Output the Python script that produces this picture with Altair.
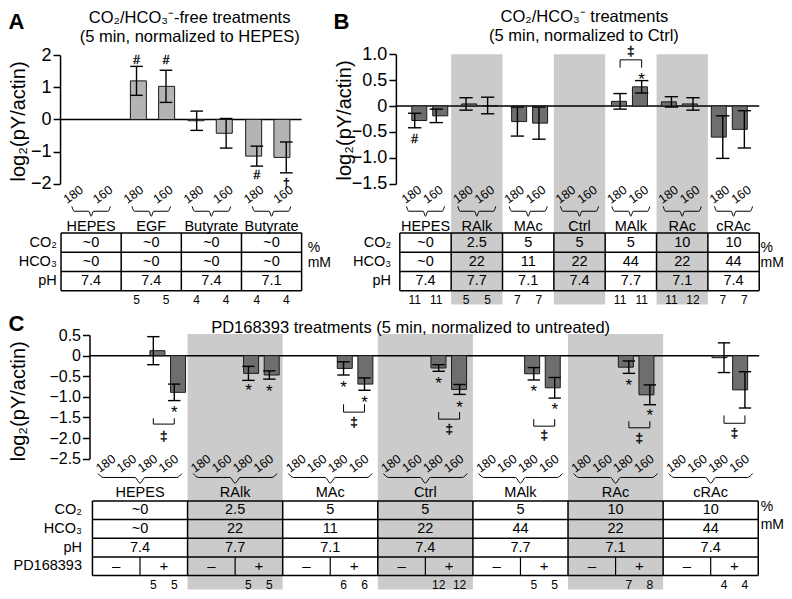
import altair as alt
import pandas as pd

FONT = "Liberation Sans"

# ======================= DATA =======================
# ---- Panel A : CO2/HCO3- free treatments (normalized to HEPES) ----
A_groups = ["HEPES", "EGF", "Butyrate", "Butyrate"]
A_sizes = ["180", "160", "180", "160", "180", "160", "180", "160"]
A_mean = [None, None, 1.20, 1.03, -0.04, -0.43, -1.14, -1.18]
A_err = [None, None, 0.45, 0.50, 0.30, 0.46, 0.31, 0.48]
A_co2 = ["~0", "~0", "~0", "~0"]
A_hco3 = ["~0", "~0", "~0", "~0"]
A_ph = ["7.4", "7.4", "7.4", "7.1"]
A_n = ["", "", "5", "5", "4", "4", "4", "4"]
A_sym = ["", "", "#", "#", "", "", "#", "†"]
A_sym_y = [None, None, 1.86, 1.86, None, None, -1.74, -1.98]

# ---- Panel B : CO2/HCO3- treatments (normalized to Ctrl) ----
B_groups = ["HEPES", "RAlk", "MAc", "Ctrl", "MAlk", "RAc", "cRAc"]
B_sizes = ["180", "160"] * 7
B_mean = [-0.28, -0.19, 0.04, 0.01, -0.30, -0.33, None, None, 0.09, 0.37, 0.08, 0.04, -0.60, -0.45]
B_err = [0.14, 0.13, 0.12, 0.16, 0.28, 0.31, None, None, 0.15, 0.12, 0.10, 0.12, 0.41, 0.36]
B_co2 = ["~0", "2.5", "5", "5", "5", "10", "10"]
B_hco3 = ["~0", "22", "11", "22", "44", "22", "44"]
B_ph = ["7.4", "7.7", "7.1", "7.4", "7.7", "7.1", "7.4"]
B_n = ["11", "11", "5", "5", "7", "7", "", "", "11", "11", "11", "12", "7", "7"]
B_sym = ["#", "", "", "", "", "", "", "", "", "*", "", "", "", ""]
B_sym_y = [-0.63, None, None, None, None, None, None, None, None, 0.60, None, None, None, None]
B_shaded = [1, 3, 5]
B_bracket_bars = [8, 9]
B_bracket_end, B_bracket_top, B_dagger_y = 0.74, 0.89, 1.07

# ---- Panel C : PD168393 treatments (normalized to untreated) ----
C_groups = ["HEPES", "RAlk", "MAc", "Ctrl", "MAlk", "RAc", "cRAc"]
C_sizes = ["180", "160", "180", "160"] * 7
C_pd = ["–", "+"]
C_mean_plus = [0.12, -0.89, -0.43, -0.47, -0.31, -0.69, -0.30, -0.82, -0.44, -0.78, -0.28, -0.95, -0.05, -0.83]
C_err_plus = [0.34, 0.20, 0.17, 0.10, 0.16, 0.15, 0.08, 0.12, 0.15, 0.25, 0.15, 0.24, 0.36, 0.44]
C_star_y = [None, -1.27, -0.74, -0.77, -0.66, -1.03, -0.56, -1.14, -0.76, -1.19, -0.62, -1.35, None, None]
C_n_plus = ["5", "5", "5", "5", "6", "6", "12", "12", "5", "5", "7", "8", "4", "4"]
C_co2 = B_co2
C_hco3 = B_hco3
C_ph = B_ph
C_shaded = [1, 3, 5]
C_bracket_groups = [0, 2, 3, 4, 5, 6]
C_bracket_top = [-1.52, -1.18, -1.37, -1.54, -1.59, -1.45]
C_bracket_bottom = [-1.66, -1.37, -1.54, -1.71, -1.75, -1.64]
C_dagger_y = [-1.94, -1.61, -1.78, -1.92, -1.99, -1.87]

ROW_LABELS = ["CO₂", "HCO₃", "pH", "PD168393"]
UNITS = ["%", "mM"]
YTITLE = "log₂(pY/actin)"


# ======================= HELPERS =======================
K = 0.982  # slight overall scale so the figure fits inside the 8px page margin


def PX(v):
    return (v - 3) * K


def PY(v):
    return (v - 5) * K


def sc(domain, rng):
    return alt.Scale(domain=domain, range=rng, nice=False, zero=False)


def X(f, s):
    return alt.X(f, type="quantitative", scale=s, axis=None)


def Y(f, s, axis=None):
    return alt.Y(f, type="quantitative", scale=s, axis=axis)


def yaxis(offset, values, expr, lsize, tx, ty):
    return alt.Axis(orient="left", offset=offset, values=values, labelExpr=expr, grid=False,
                    domainColor="black", domainWidth=1.5, tickColor="black", tickWidth=1.5,
                    tickSize=7, labelFont=FONT, labelFontSize=lsize, labelColor="black",
                    labelPadding=2, labelFlush=False, labelOverlap=False,
                    title=YTITLE, titleFont=FONT, titleFontSize=20, titleFontWeight="normal",
                    titleColor="black", titleAngle=270, titleAlign="center",
                    titleBaseline="middle", titleX=tx, titleY=ty)


def text_layer(recs, xs, ys, size, **kw):
    df = pd.DataFrame(recs)
    return alt.Chart(df).mark_text(font=FONT, fontSize=size, color="black", **kw).encode(
        x=X("x", xs), y=Y("y", ys), text="t:N")


def dagger_layer(recs, xs, ys, size):
    df = pd.DataFrame(recs)
    return alt.Chart(df).mark_text(font=FONT, fontSize=size, fill="black", stroke="black",
                                   strokeWidth=0.35, baseline="middle").encode(
        x=X("x", xs), y=Y("y", ys), text="t:N")


def shade(cols, xs, rs, top, bottom):
    df = pd.DataFrame({"x": cols, "x2": [c + 1 for c in cols],
                       "y": [top] * len(cols), "y2": [bottom] * len(cols)})
    return alt.Chart(df).mark_rect(color="#cbcbcb").encode(
        x=X("x", xs), x2="x2", y=Y("y", rs), y2="y2")


def zero_line(x0, x1, xs, ys, axis):
    df = pd.DataFrame({"x": [x0], "x2": [x1], "y": [0.0]})
    return alt.Chart(df).mark_rule(color="black", strokeWidth=1.5).encode(
        x=X("x", xs), x2="x2", y=Y("y", ys, axis))


def bars(pos, mean, err, xs, ys, fill, bw, cap):
    df = pd.DataFrame({"x": pos, "m": mean, "e": err}).dropna()
    df["zero"] = 0.0
    df["lo"] = df["m"] - df["e"]
    df["hi"] = df["m"] + df["e"]
    df["cl"] = df["x"] - cap
    df["cr"] = df["x"] + cap
    b = alt.Chart(df).mark_bar(width=bw, fill=fill, stroke="#1a1a1a", strokeWidth=1).encode(
        x=X("x", xs), y=Y("m", ys), y2="zero")
    e = alt.Chart(df).mark_rule(color="black", strokeWidth=1.4).encode(
        x=X("x", xs), y=Y("lo", ys), y2="hi")
    caps = pd.concat([df[["cl", "cr", "lo"]].rename(columns={"lo": "v"}),
                      df[["cl", "cr", "hi"]].rename(columns={"hi": "v"})])
    c = alt.Chart(caps).mark_rule(color="black", strokeWidth=1.4).encode(
        x=X("cl", xs), x2="cr", y=Y("v", ys))
    return [b, e, c]


def table(ncols, nrows, xs, rs, half_row=None):
    h = pd.DataFrame({"x": [0] * (nrows + 1), "x2": [ncols] * (nrows + 1),
                      "y": list(range(nrows + 1))})
    v = pd.DataFrame({"x": list(range(ncols + 1)), "y": [0] * (ncols + 1),
                      "y2": [nrows] * (ncols + 1)})
    out = [alt.Chart(h).mark_rule(color="black", strokeWidth=1.5).encode(x=X("x", xs), x2="x2", y=Y("y", rs)),
           alt.Chart(v).mark_rule(color="black", strokeWidth=1.5).encode(x=X("x", xs), y=Y("y", rs), y2="y2")]
    if half_row is not None:
        d = pd.DataFrame({"x": [c + 0.5 for c in range(ncols)], "y": [half_row] * ncols,
                          "y2": [half_row + 1] * ncols})
        out.append(alt.Chart(d).mark_rule(color="black", strokeWidth=1.2).encode(
            x=X("x", xs), y=Y("y", rs), y2="y2"))
    return out


def braces(ngroups, hw, top, mid, tip, xs, rs):
    recs = []
    for g in range(ngroups):
        c = g + 0.5
        pts = [(c - hw, top), (c - hw + 0.12 * hw, mid), (c - 0.12 * hw, mid), (c, tip),
               (c + 0.12 * hw, mid), (c + hw - 0.12 * hw, mid), (c + hw, top)]
        for k, (x, y) in enumerate(pts):
            recs.append({"x": x, "y": y, "id": g, "o": k})
    return alt.Chart(pd.DataFrame(recs)).mark_line(color="black", strokeWidth=1, interpolate="monotone").encode(
        x=X("x", xs), y=Y("y", rs), detail="id:N", order="o:Q")


def bracket_lines(segs, xs, ys):
    recs = []
    for i, pts in enumerate(segs):
        for k, (x, y) in enumerate(pts):
            recs.append({"x": x, "y": y, "id": i, "o": k})
    return alt.Chart(pd.DataFrame(recs)).mark_line(color="black", strokeWidth=1).encode(
        x=X("x", xs), y=Y("y", ys), detail="id:N", order="o:Q")


def free_text(t, x, y, size, weight="normal"):
    return alt.Chart(pd.DataFrame({"t": [t]})).mark_text(
        font=FONT, fontSize=size, fontWeight=weight, align="center", baseline="middle", color="black"
    ).encode(x=alt.value(x), y=alt.value(y), text="t:N")


def sym_layers(pos, syms, ys_vals, xs, ys):
    out = []
    stars = [{"x": p, "y": y, "t": s} for p, s, y in zip(pos, syms, ys_vals) if s == "*"]
    other = [{"x": p, "y": y, "t": s} for p, s, y in zip(pos, syms, ys_vals) if s and s != "*"]
    if stars:
        out.append(text_layer(stars, xs, ys, 17, baseline="middle", dy=5))
    if other:
        out.append(dagger_layer(other, xs, ys, 12))
    return out


# ======================= LAYOUT (scales) =======================
xA = sc([0, 4], [PX(57), PX(302)]); yA = sc([-2, 2], [PY(184), PY(53)]); rA = sc([0, 3], [PY(234), PY(293)])
xB = sc([0, 7], [PX(402), PX(768)]); yB = sc([-1.5, 1.0], [PY(184), PY(52)]); rB = sc([0, 3], [PY(234), PY(293)])
xC = sc([0, 7], [PX(89), PX(767)]); yC = sc([-2.5, 0.5], [PY(464), PY(338)]); rC = sc([0, 4], [PY(507), PY(583)])

A_pos = [g + 0.5 + d for g in range(4) for d in (-0.245, 0.245)]
B_pos = [g + 0.5 + d for g in range(7) for d in (-0.21, 0.21)]
C_pos = [g + f for g in range(7) for f in (0.2, 0.42, 0.64, 0.86)]
C_plus_pos = [g + f for g in range(7) for f in (0.64, 0.86)]

axA = yaxis(-PX(56), [-2, -1, 0, 1, 2], "format(datum.value, 'd')", 18, 10 - PX(56), PY(120))
axB = yaxis(-PX(398), [-1.5, -1.0, -0.5, 0, 0.5, 1.0],
            "datum.value == 0 ? '0' : format(datum.value, '.1f')", 18, PX(346) - PX(398), PY(119))
axC = yaxis(-PX(86), [-2.5, -2.0, -1.5, -1.0, -0.5, 0, 0.5],
            "datum.value == 0 ? '0' : format(datum.value, '.1f')", 16, 10 - PX(86), PY(405))

layers = []

# backgrounds
layers.append(shade(B_shaded, xB, rB, -9.25, 3.71))
layers.append(shade(C_shaded, xC, rC, -8.95, 4.74))

# ---------------- Panel A ----------------
layers.append(zero_line(-0.02, 4.0, xA, yA, axA))
layers += bars(A_pos, A_mean, A_err, xA, yA, "#b4b4b4", 16, 0.105)
layers += sym_layers(A_pos, A_sym, A_sym_y, xA, yA)
layers.append(text_layer([{"x": p - 0.05, "y": -1.98, "t": s} for p, s in zip(A_pos, A_sizes)],
                         xA, rA, 12.5, angle=324, align="center", baseline="middle"))
layers.append(braces(4, 0.32, -1.37, -1.12, -0.86, xA, rA))
layers.append(text_layer([{"x": g + 0.5, "y": -0.31, "t": t} for g, t in enumerate(A_groups)],
                         xA, rA, 14.5, baseline="middle"))
layers += table(4, 3, xA, rA)
layers.append(text_layer([{"x": c + 0.5, "y": r + 0.5, "t": v}
                          for r, vals in enumerate([A_co2, A_hco3, A_ph]) for c, v in enumerate(vals)],
                         xA, rA, 14.5, baseline="middle"))
layers.append(text_layer([{"x": -0.07, "y": r + 0.5, "t": t} for r, t in enumerate(ROW_LABELS[:3])],
                         xA, rA, 14.5, align="right", baseline="middle"))
layers.append(text_layer([{"x": 4.1, "y": 0.78, "t": UNITS[0]}, {"x": 4.1, "y": 1.55, "t": UNITS[1]}],
                         xA, rA, 14, align="left", baseline="middle"))
layers.append(text_layer([{"x": p, "y": 3.5, "t": n} for p, n in zip(A_pos, A_n) if n],
                         xA, rA, 12, baseline="middle"))

# ---------------- Panel B ----------------
layers.append(zero_line(-0.08, 7.0, xB, yB, axB))
layers += bars(B_pos, B_mean, B_err, xB, yB, "#6e6e6e", 15, 0.13)
layers += sym_layers(B_pos, B_sym, B_sym_y, xB, yB)
bx0, bx1 = B_pos[B_bracket_bars[0]], B_pos[B_bracket_bars[1]]
layers.append(bracket_lines([[(bx0, B_bracket_end), (bx0, B_bracket_top), (bx1, B_bracket_top), (bx1, B_bracket_end)]],
                            xB, yB))
layers.append(dagger_layer([{"x": (bx0 + bx1) / 2, "y": B_dagger_y, "t": "‡"}], xB, yB, 13.5))
layers.append(text_layer([{"x": p - 0.06, "y": -1.98, "t": s} for p, s in zip(B_pos, B_sizes)],
                         xB, rB, 12.5, angle=324, align="center", baseline="middle"))
layers.append(braces(7, 0.37, -1.37, -1.12, -0.86, xB, rB))
layers.append(text_layer([{"x": g + 0.5, "y": -0.31, "t": t} for g, t in enumerate(B_groups)],
                         xB, rB, 14.5, baseline="middle"))
layers += table(7, 3, xB, rB)
layers.append(text_layer([{"x": c + 0.5, "y": r + 0.5, "t": v}
                          for r, vals in enumerate([B_co2, B_hco3, B_ph]) for c, v in enumerate(vals)],
                         xB, rB, 14.5, baseline="middle"))
layers.append(text_layer([{"x": -0.17, "y": r + 0.5, "t": t} for r, t in enumerate(ROW_LABELS[:3])],
                         xB, rB, 14.5, align="right", baseline="middle"))
layers.append(text_layer([{"x": 7.025, "y": 0.78, "t": UNITS[0]}, {"x": 7.025, "y": 1.55, "t": UNITS[1]}],
                         xB, rB, 14, align="left", baseline="middle"))
layers.append(text_layer([{"x": p, "y": 3.5, "t": n} for p, n in zip(B_pos, B_n) if n],
                         xB, rB, 12, baseline="middle"))

# ---------------- Panel C ----------------
layers.append(zero_line(-0.03, 7.01, xC, yC, axC))
layers += bars(C_plus_pos, C_mean_plus, C_err_plus, xC, yC, "#6e6e6e", 15, 0.065)
layers += sym_layers(C_plus_pos, ["*" if v is not None else "" for v in C_star_y], C_star_y, xC, yC)
segs = []
for g, t, b in zip(C_bracket_groups, C_bracket_top, C_bracket_bottom):
    x0, x1 = g + 0.64, g + 0.86
    segs.append([(x0, t), (x0, b), (x1, b), (x1, t)])
layers.append(bracket_lines(segs, xC, yC))
layers.append(dagger_layer([{"x": g + 0.75, "y": y, "t": "‡"} for g, y in zip(C_bracket_groups, C_dagger_y)],
                           xC, yC, 13.5))
layers.append(text_layer([{"x": p - 0.06, "y": -2.0, "t": s} for p, s in zip(C_pos, C_sizes)],
                         xC, rC, 12.5, angle=324, align="center", baseline="middle"))
layers.append(braces(7, 0.44, -1.47, -1.26, -0.95, xC, rC))
layers.append(text_layer([{"x": g + 0.5, "y": -0.43, "t": t} for g, t in enumerate(C_groups)],
                         xC, rC, 14.5, baseline="middle"))
layers += table(7, 4, xC, rC, half_row=3)
layers.append(text_layer([{"x": c + 0.5, "y": r + 0.5, "t": v}
                          for r, vals in enumerate([C_co2, C_hco3, C_ph]) for c, v in enumerate(vals)],
                         xC, rC, 14.5, baseline="middle"))
layers.append(text_layer([{"x": g + 0.25 + 0.5 * k, "y": 3.5, "t": s} for g in range(7) for k, s in enumerate(C_pd)],
                         xC, rC, 15, baseline="middle"))
layers.append(text_layer([{"x": -0.11, "y": r + 0.5, "t": t} for r, t in enumerate(ROW_LABELS)],
                         xC, rC, 14.5, align="right", baseline="middle"))
layers.append(text_layer([{"x": 7.025, "y": 0.35, "t": UNITS[0]}, {"x": 7.025, "y": 1.3, "t": UNITS[1]}],
                         xC, rC, 14, align="left", baseline="middle"))
layers.append(text_layer([{"x": p, "y": 4.51, "t": n} for p, n in zip(C_plus_pos, C_n_plus)],
                         xC, rC, 12, baseline="middle"))

# ---------------- titles & panel letters ----------------
layers.append(free_text("A", PX(11.7), PY(19.3), 22, "bold"))
layers.append(free_text("B", PX(342.5), PY(19.3), 22, "bold"))
layers.append(free_text("C", PX(11.5), PY(327), 22, "bold"))
layers.append(free_text("CO₂/HCO₃⁻-free treatments", PX(188), PY(15.5), 16.5))
layers.append(free_text("(5 min, normalized to HEPES)", PX(188), PY(35), 16.5))
layers.append(free_text("CO₂/HCO₃⁻ treatments", PX(590), PY(14.5), 16.5))
layers.append(free_text("(5 min, normalized to Ctrl)", PX(589.5), PY(33.5), 16.5))
layers.append(free_text("PD168393 treatments (5 min, normalized to untreated)", PX(413), PY(331), 16.5))

chart = alt.layer(*layers).resolve_scale(x="independent", y="independent").properties(
    width=776, height=583, padding=0, autosize=alt.AutoSizeParams(type="none"),
    background="white"
).configure_view(stroke=None)

chart.save("out.html", embed_options={"renderer": "svg", "actions": False})
